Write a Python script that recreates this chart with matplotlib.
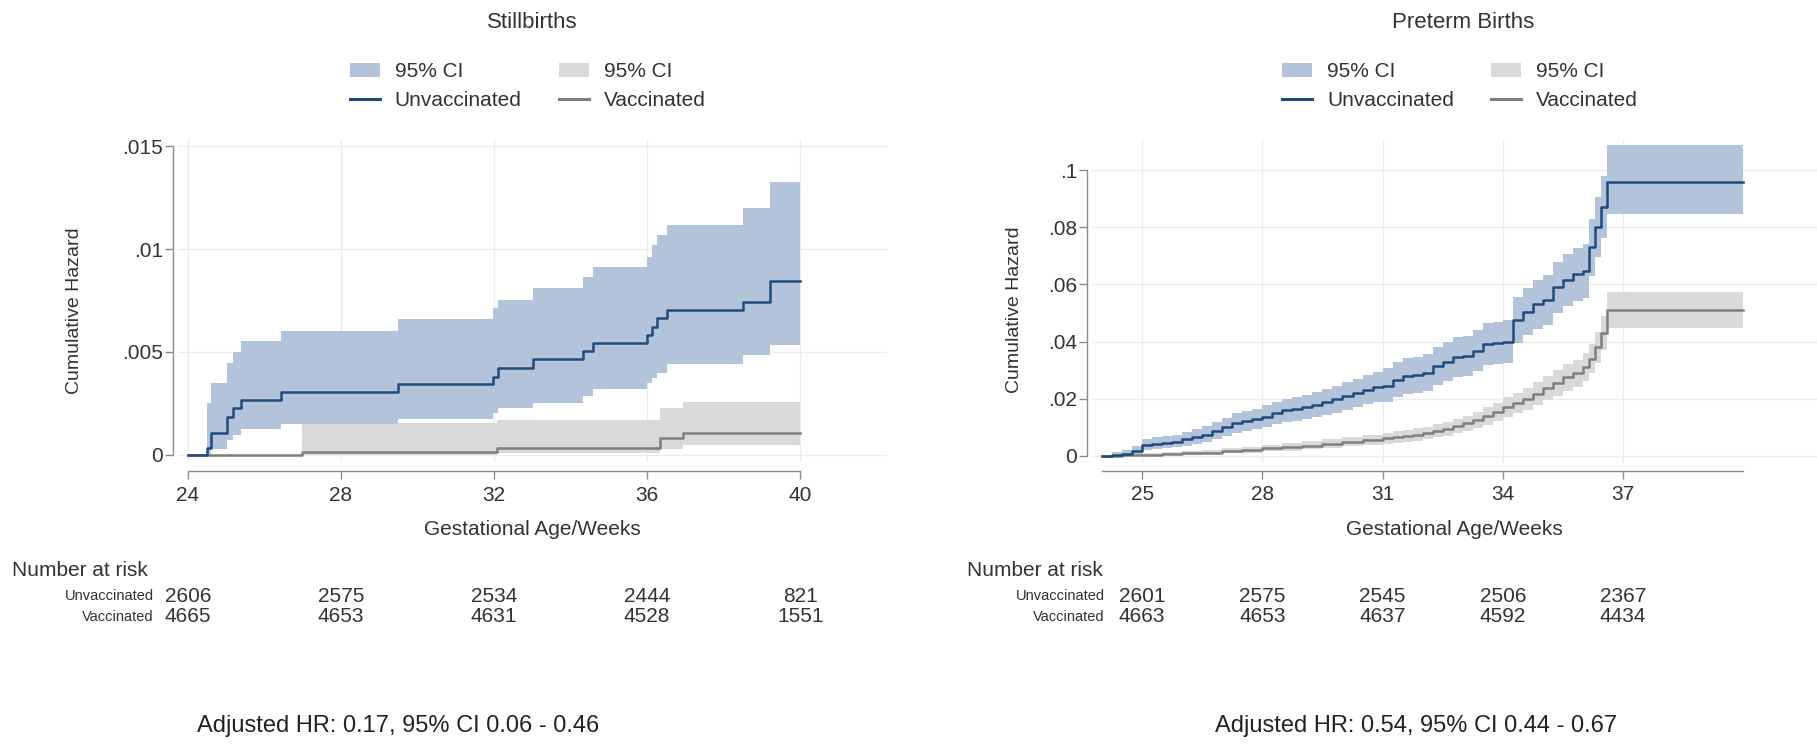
import matplotlib
matplotlib.use("Agg")
import matplotlib.pyplot as plt
import matplotlib.transforms as mtransforms
from matplotlib.patches import Patch
from matplotlib.lines import Line2D

plt.rcParams['font.family'] = ['Liberation Sans', 'DejaVu Sans']

# ---- Stillbirths (left panel) ----
sb_unvax_t = [24.0, 24.49, 24.59, 25.01, 25.18, 25.38, 26.43, 29.5, 31.98, 32.1,
              33.03, 34.32, 34.58, 36.01, 36.12, 36.27, 36.51, 38.5, 39.22, 40.0]
sb_unvax_h = [0, 0.00033, 0.00108, 0.00186, 0.00227, 0.00267, 0.00304, 0.00343, 0.0038, 0.0042,
              0.00465, 0.00505, 0.00545, 0.00583, 0.00623, 0.00663, 0.00704, 0.00744, 0.00843, 0.00843]
sb_unvax_lo = [0, 0.00005, 0.0003, 0.00073, 0.00095, 0.00125, 0.00149, 0.00173, 0.00202, 0.00227,
               0.00254, 0.00286, 0.00319, 0.00348, 0.00373, 0.00397, 0.0044, 0.00485, 0.00534, 0.00534]
sb_unvax_hi = [0, 0.0025, 0.00348, 0.00448, 0.00502, 0.00555, 0.00603, 0.00659, 0.00712, 0.00752,
               0.00809, 0.00866, 0.00914, 0.00963, 0.0102, 0.0107, 0.01117, 0.01198, 0.01327, 0.01327]

sb_vax_t = [24.0, 26.97, 32.07, 36.34, 36.95, 40.0]
sb_vax_h = [0, 0.00016, 0.00035, 0.00081, 0.00105, 0.00105]
sb_vax_lo = [0, 0.00002, 0.00009, 0.0003, 0.00049, 0.00049]
sb_vax_hi = [0, 0.00155, 0.0017, 0.00227, 0.00259, 0.00259]

sb_risk_weeks = [24, 28, 32, 36, 40]
sb_risk_unvax = [2606, 2575, 2534, 2444, 821]
sb_risk_vax = [4665, 4653, 4631, 4528, 1551]
sb_yticks = [0, 0.005, 0.01, 0.015]
sb_yticklabels = ["0", ".005", ".01", ".015"]

# ---- Preterm births (right panel) ----
pt_unvax_t = [24.0, 24.25, 24.5, 24.75, 25.0, 25.25, 25.5, 25.75, 26.0, 26.25, 26.5, 26.75,
              27.0, 27.25, 27.5, 27.75, 28.0, 28.25, 28.5, 28.75, 29.0, 29.25, 29.5, 29.75,
              30.0, 30.25, 30.5, 30.75, 31.0, 31.25, 31.5, 31.75, 32.0, 32.25, 32.5, 32.75,
              33.0, 33.25, 33.5, 33.75, 34.0, 34.25, 34.5, 34.75, 35.0, 35.25, 35.5, 35.75,
              36.0, 36.15, 36.3, 36.45, 36.6, 40.0]
pt_unvax_h = [0, 0.0004, 0.0008, 0.0019, 0.0038, 0.0042, 0.0046, 0.005, 0.0058, 0.0065, 0.0075, 0.0088,
              0.01, 0.0115, 0.0122, 0.0128, 0.0138, 0.015, 0.016, 0.0166, 0.0172, 0.018, 0.0188, 0.0198,
              0.021, 0.022, 0.0232, 0.024, 0.0246, 0.0265, 0.0278, 0.0283, 0.029, 0.0315, 0.033, 0.0345,
              0.0348, 0.0368, 0.039, 0.0394, 0.04, 0.0475, 0.0505, 0.053, 0.0545, 0.059, 0.0615, 0.0635,
              0.0648, 0.073, 0.08, 0.087, 0.0959, 0.0959]
pt_unvax_lo = [0, 0.0001, 0.0002, 0.0008, 0.0021, 0.0024, 0.0027, 0.003, 0.0036, 0.0042, 0.0049, 0.006,
               0.007, 0.0082, 0.0088, 0.0093, 0.0101, 0.0111, 0.0119, 0.0124, 0.0129, 0.0136, 0.0143, 0.0151,
               0.0162, 0.017, 0.0181, 0.0188, 0.0188, 0.0205, 0.0216, 0.0221, 0.0227, 0.0249, 0.0262, 0.0276,
               0.0279, 0.0297, 0.0317, 0.032, 0.0325, 0.0395, 0.0422, 0.0445, 0.0458, 0.05, 0.0523, 0.0541,
               0.0553, 0.063, 0.0696, 0.0762, 0.0845, 0.0845]
pt_unvax_hi = [0, 0.0014, 0.002, 0.0035, 0.006, 0.0065, 0.007, 0.0075, 0.0084, 0.0093, 0.0104, 0.0119,
               0.0133, 0.015, 0.0158, 0.0165, 0.0177, 0.019, 0.0201, 0.0208, 0.0215, 0.0224, 0.0233, 0.0245,
               0.0258, 0.0269, 0.0282, 0.0292, 0.0306, 0.0327, 0.0341, 0.0347, 0.0355, 0.0382, 0.0398, 0.0415,
               0.0418, 0.044, 0.0464, 0.0468, 0.0476, 0.0556, 0.0588, 0.0616, 0.0632, 0.068, 0.0708, 0.0729,
               0.0743, 0.083, 0.0904, 0.0978, 0.1087, 0.1087]

pt_vax_t = [24.0, 24.5, 25.0, 25.5, 26.0, 26.5, 27.0, 27.5, 28.0, 28.5, 29.0, 29.5, 30.0, 30.5,
            31.0, 31.25, 31.5, 31.75, 32.0, 32.25, 32.5, 32.75, 33.0, 33.25, 33.5, 33.75, 34.0,
            34.25, 34.5, 34.75, 35.0, 35.25, 35.5, 35.75, 36.0, 36.15, 36.3, 36.45, 36.6, 40.0]
pt_vax_h = [0, 0.0002, 0.0004, 0.0006, 0.0009, 0.0012, 0.0016, 0.0021, 0.0027, 0.0031, 0.0036, 0.0042,
            0.005, 0.0056, 0.0062, 0.0066, 0.007, 0.0075, 0.008, 0.0088, 0.0095, 0.0104, 0.0114, 0.0126,
            0.014, 0.0155, 0.0172, 0.0186, 0.02, 0.0218, 0.0237, 0.0255, 0.0275, 0.029, 0.0312, 0.034,
            0.038, 0.043, 0.051, 0.051]
pt_vax_lo = [0, 0, 0.0001, 0.0002, 0.0004, 0.0006, 0.0009, 0.0012, 0.0016, 0.0019, 0.0023, 0.0027,
             0.0034, 0.0039, 0.0043, 0.0046, 0.005, 0.0054, 0.0058, 0.0065, 0.0071, 0.0079, 0.0087, 0.0097,
             0.0109, 0.0122, 0.0137, 0.0149, 0.0162, 0.0178, 0.0195, 0.0211, 0.0229, 0.0243, 0.0263, 0.0289,
             0.0326, 0.0372, 0.0446, 0.0446]
pt_vax_hi = [0, 0.0007, 0.001, 0.0013, 0.0017, 0.0021, 0.0027, 0.0033, 0.004, 0.0045, 0.0051, 0.0058,
             0.0067, 0.0074, 0.0081, 0.0086, 0.0091, 0.0097, 0.0103, 0.0112, 0.012, 0.013, 0.0141, 0.0155,
             0.017, 0.0187, 0.0206, 0.0222, 0.0238, 0.0258, 0.0279, 0.0299, 0.0321, 0.0337, 0.0361, 0.0391,
             0.0434, 0.0488, 0.0572, 0.0572]

pt_risk_weeks = [25, 28, 31, 34, 37]
pt_risk_unvax = [2601, 2575, 2545, 2506, 2367]
pt_risk_vax = [4663, 4653, 4637, 4592, 4434]
pt_yticks = [0, 0.02, 0.04, 0.06, 0.08, 0.1]
pt_yticklabels = ["0", ".02", ".04", ".06", ".08", ".1"]

W, H = 1817, 750
BLUE = "#1f4a7c"
BLUE_CI = "#b3c4da"
GREY = "#7f7f7f"
GREY_CI = "#d9d9d9"
TXT = "#333333"
AXC = "#8c8c8c"

fig = plt.figure(figsize=(W / 100, H / 100), dpi=100)


def px(x, y):
    return x / W, 1 - y / H


def draw_panel(rect, title, title_x, xlim, ylim, xticks, yticks, yticklabels, ybound,
               ut, uh, ulo, uhi, vt, vh, vlo, vhi,
               out_left, out_bottom, xlab_y, ylab_x, ylab_y, leg_x):
    ax = fig.add_axes(rect)
    ax.fill_between(vt, vlo, vhi, step="post", color=GREY_CI, lw=0, zorder=2)
    ax.fill_between(ut, ulo, uhi, step="post", color=BLUE_CI, lw=0, zorder=2)
    ax.step(vt, vh, where="post", color=GREY, lw=1.8, zorder=3)
    ax.step(ut, uh, where="post", color=BLUE, lw=1.8, zorder=3)

    ax.set_xlim(*xlim)
    ax.set_ylim(*ylim)
    ax.set_xticks(xticks)
    ax.set_yticks(yticks)
    ax.set_yticklabels(yticklabels)
    ax.grid(True, color="#ececec", lw=1.0, zorder=0)
    ax.set_axisbelow(True)

    for s in ["top", "right"]:
        ax.spines[s].set_visible(False)
    ax.spines["left"].set_position(("outward", out_left))
    ax.spines["bottom"].set_position(("outward", out_bottom))
    ax.spines["left"].set_bounds(*ybound)
    ax.spines["bottom"].set_bounds(24, 40)
    for s in ["left", "bottom"]:
        ax.spines[s].set_color(AXC)
        ax.spines[s].set_linewidth(1.0)
    ax.tick_params(axis="both", direction="out", length=5.5, width=1.0, color=AXC,
                   labelsize=15, labelcolor=TXT)
    ax.tick_params(axis="y", pad=1.5)
    ax.tick_params(axis="x", pad=5)

    ax.set_xlabel("Gestational Age/Weeks", fontsize=15, color=TXT)
    ax.xaxis.set_label_coords(0.5, xlab_y)
    ax.set_ylabel("Cumulative Hazard", fontsize=14, color=TXT)
    ax.yaxis.set_label_coords(ylab_x, ylab_y)

    fig.text(*px(title_x, 23), title, fontsize=16, color=TXT, ha="center", va="center")

    handles = [Patch(facecolor=BLUE_CI, edgecolor="none"),
               Line2D([0], [0], color=BLUE, lw=2.2),
               Patch(facecolor=GREY_CI, edgecolor="none"),
               Line2D([0], [0], color=GREY, lw=2.2)]
    labels = ["95% CI", "Unvaccinated", "95% CI", "Vaccinated"]
    fig.legend(handles, labels, ncol=2, loc="center", bbox_to_anchor=px(leg_x, 86),
               frameon=False, fontsize=15, handlelength=1.45, handleheight=0.6,
               handletextpad=0.7, columnspacing=1.8, labelspacing=0.45,
               labelcolor=TXT)
    return ax


axL = draw_panel([178 / W, 1 - 462 / H, 709 / W, 323 / H], "Stillbirths", 532,
                 (23.74, 42.27), (-0.00034, 0.01534), [24, 28, 32, 36, 40],
                 sb_yticks, sb_yticklabels, (0, 0.015),
                 sb_unvax_t, sb_unvax_h, sb_unvax_lo, sb_unvax_hi,
                 sb_vax_t, sb_vax_h, sb_vax_lo, sb_vax_hi,
                 3.6, 6.5, -0.18, -0.134, 0.47, 528)

axR = draw_panel([1092 / W, 1 - 463 / H, 725 / W, 323 / H], "Preterm Births", 1463,
                 (23.75, 41.84), (-0.00245, 0.1105), [25, 28, 31, 34, 37],
                 pt_yticks, pt_yticklabels, (0, 0.1),
                 pt_unvax_t, pt_unvax_h, pt_unvax_lo, pt_unvax_hi,
                 pt_vax_t, pt_vax_h, pt_vax_lo, pt_vax_hi,
                 3.6, 5.5, -0.176, -0.095, 0.474, 1460)


def risk_table(ax, label_x, label_end, weeks, unvax, vax):
    tr = mtransforms.blended_transform_factory(ax.transData, fig.transFigure)
    fig.text(*px(label_x, 571), "Number at risk", fontsize=15, color=TXT, ha="left", va="center")
    fig.text(*px(label_end, 596), "Unvaccinated", fontsize=10.5, color=TXT, ha="right", va="center")
    fig.text(*px(label_end, 617), "Vaccinated", fontsize=10.5, color=TXT, ha="right", va="center")
    for wk, a, b in zip(weeks, unvax, vax):
        ax.text(wk, 1 - 596 / H, str(a), transform=tr, fontsize=15, color=TXT,
                ha="center", va="center")
        ax.text(wk, 1 - 617 / H, str(b), transform=tr, fontsize=15, color=TXT,
                ha="center", va="center")


risk_table(axL, 12, 154, sb_risk_weeks, sb_risk_unvax, sb_risk_vax)
risk_table(axR, 967, 1105, pt_risk_weeks, pt_risk_unvax, pt_risk_vax)

fig.text(*px(197, 726), "Adjusted HR: 0.17, 95% CI 0.06 - 0.46", fontsize=17, color="#222222",
         ha="left", va="center")
fig.text(*px(1215, 726), "Adjusted HR: 0.54, 95% CI 0.44 - 0.67", fontsize=17, color="#222222",
         ha="left", va="center")

fig.savefig("out.png", dpi=100, facecolor="white")
